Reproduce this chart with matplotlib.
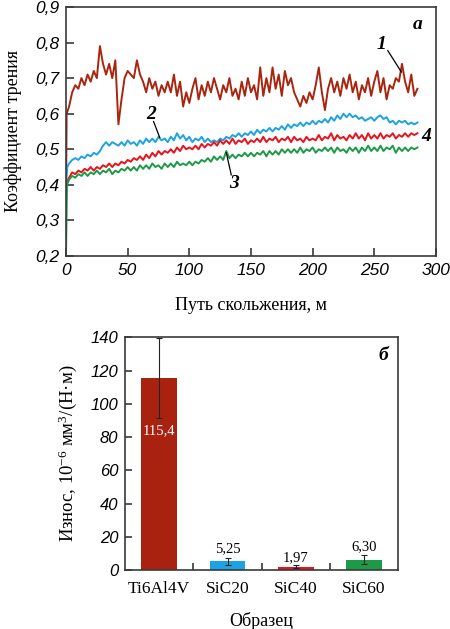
import numpy as np
import matplotlib
matplotlib.use("Agg")
import matplotlib.pyplot as plt

plt.rcParams['mathtext.fontset'] = 'custom'
plt.rcParams['mathtext.rm'] = 'Liberation Serif'
plt.rcParams['mathtext.it'] = 'Liberation Serif:italic'

# ---------------- data: friction coefficient vs sliding distance ----------------
STEP = 2.5  # m, sampling step of the series below (starting at 2.5 m)

# initial run-in points (distance, value)
c1_start_d = [0.0, 0.5]
c1_start_v = [0.36, 0.60]
c2_start_d = [0.0, 1.0]
c2_start_v = [0.40, 0.45]
c3_start_d = [0.0, 0.8]
c3_start_v = [0.21, 0.40]
c4_start_d = [0.0, 1.0]
c4_start_v = [0.40, 0.41]

curve1 = [0.62, 0.66, 0.68, 0.67, 0.70, 0.68, 0.71, 0.69, 0.72, 0.70,
          0.79, 0.74, 0.71, 0.74, 0.70, 0.75, 0.57, 0.64, 0.70, 0.72,
          0.71, 0.70, 0.75, 0.71, 0.69, 0.66, 0.70, 0.67, 0.69, 0.65,
          0.68, 0.66, 0.69, 0.66, 0.71, 0.65, 0.69, 0.62, 0.66, 0.63,
          0.67, 0.70, 0.64, 0.68, 0.65, 0.69, 0.66, 0.70, 0.67, 0.64,
          0.68, 0.66, 0.70, 0.65, 0.67, 0.64, 0.69, 0.65, 0.70, 0.66,
          0.68, 0.64, 0.73, 0.65, 0.70, 0.66, 0.73, 0.67, 0.71, 0.65,
          0.72, 0.68, 0.70, 0.66, 0.64, 0.62, 0.65, 0.63, 0.66, 0.64,
          0.68, 0.73, 0.66, 0.61, 0.67, 0.70, 0.66, 0.69, 0.65, 0.70,
          0.67, 0.71, 0.66, 0.69, 0.64, 0.68, 0.66, 0.70, 0.65, 0.69,
          0.72, 0.66, 0.70, 0.64, 0.68, 0.67, 0.70, 0.69, 0.74, 0.69,
          0.66, 0.71, 0.65, 0.67]

curve2 = [0.46, 0.47, 0.475, 0.47, 0.48, 0.475, 0.485, 0.48, 0.49, 0.485,
          0.495, 0.51, 0.52, 0.51, 0.52, 0.515, 0.51, 0.52, 0.51, 0.525,
          0.515, 0.52, 0.51, 0.525, 0.515, 0.53, 0.52, 0.53, 0.52, 0.535,
          0.525, 0.53, 0.52, 0.535, 0.525, 0.545, 0.53, 0.54, 0.525, 0.535,
          0.52, 0.53, 0.525, 0.535, 0.52, 0.53, 0.52, 0.525, 0.52, 0.53,
          0.525, 0.535, 0.53, 0.54, 0.535, 0.545, 0.535, 0.545, 0.54, 0.55,
          0.54, 0.555, 0.545, 0.555, 0.55, 0.56, 0.55, 0.56, 0.555, 0.565,
          0.555, 0.57, 0.56, 0.57, 0.565, 0.575, 0.565, 0.575, 0.57, 0.58,
          0.57, 0.58, 0.575, 0.585, 0.575, 0.59, 0.58, 0.595, 0.585, 0.60,
          0.59, 0.60, 0.59, 0.595, 0.585, 0.59, 0.58, 0.585, 0.59, 0.58,
          0.59, 0.595, 0.585, 0.59, 0.575, 0.58, 0.57, 0.58, 0.575, 0.58,
          0.57, 0.575, 0.57, 0.575]

curve4 = [0.42, 0.435, 0.43, 0.44, 0.435, 0.445, 0.44, 0.45, 0.44, 0.45,
          0.445, 0.455, 0.45, 0.46, 0.45, 0.46, 0.455, 0.465, 0.46, 0.47,
          0.465, 0.475, 0.47, 0.48, 0.47, 0.485, 0.475, 0.49, 0.48, 0.495,
          0.485, 0.495, 0.49, 0.50, 0.49, 0.505, 0.495, 0.51, 0.50, 0.505,
          0.50, 0.51, 0.50, 0.515, 0.505, 0.515, 0.51, 0.52, 0.51, 0.525,
          0.515, 0.525, 0.515, 0.53, 0.515, 0.525, 0.52, 0.53, 0.515, 0.525,
          0.52, 0.53, 0.52, 0.535, 0.52, 0.53, 0.525, 0.535, 0.52, 0.53,
          0.525, 0.535, 0.52, 0.535, 0.525, 0.53, 0.52, 0.535, 0.525, 0.53,
          0.525, 0.54, 0.525, 0.535, 0.53, 0.545, 0.525, 0.54, 0.53, 0.535,
          0.525, 0.54, 0.53, 0.545, 0.53, 0.54, 0.525, 0.545, 0.53, 0.54,
          0.53, 0.545, 0.53, 0.54, 0.535, 0.545, 0.53, 0.54, 0.535, 0.545,
          0.535, 0.545, 0.54, 0.545]

curve3 = [0.415, 0.425, 0.42, 0.43, 0.425, 0.435, 0.425, 0.435, 0.43, 0.44,
          0.43, 0.44, 0.435, 0.445, 0.43, 0.44, 0.435, 0.445, 0.44, 0.45,
          0.44, 0.45, 0.44, 0.455, 0.445, 0.455, 0.445, 0.46, 0.45, 0.455,
          0.445, 0.46, 0.45, 0.46, 0.45, 0.465, 0.455, 0.46, 0.455, 0.465,
          0.455, 0.465, 0.46, 0.47, 0.465, 0.475, 0.465, 0.48, 0.47, 0.48,
          0.47, 0.495, 0.475, 0.485, 0.475, 0.485, 0.48, 0.49, 0.48, 0.49,
          0.48, 0.49, 0.485, 0.495, 0.48, 0.495, 0.485, 0.495, 0.485, 0.50,
          0.49, 0.50, 0.49, 0.50, 0.49, 0.505, 0.49, 0.50, 0.495, 0.505,
          0.49, 0.50, 0.495, 0.505, 0.495, 0.505, 0.49, 0.505, 0.495, 0.50,
          0.49, 0.505, 0.495, 0.505, 0.49, 0.505, 0.495, 0.51, 0.495, 0.505,
          0.495, 0.51, 0.495, 0.505, 0.50, 0.51, 0.49, 0.505, 0.495, 0.505,
          0.495, 0.505, 0.50, 0.505]

fric_yticks = [0.2, 0.3, 0.4, 0.5, 0.6, 0.7, 0.8, 0.9]
fric_yticklabels = ['0,2', '0,3', '0,4', '0,5', '0,6', '0,7', '0,8', '0,9']
fric_xticks = [0, 50, 100, 150, 200, 250, 300]

# ---------------- data: wear ----------------
samples = ['Ti6Al4V', 'SiC20', 'SiC40', 'SiC60']
wear = [115.4, 5.25, 1.97, 6.30]
wear_err = [24.0, 2.0, 0.8, 2.6]
wear_labels = ['115,4', '5,25', '1,97', '6,30']
wear_yticks = [0, 20, 40, 60, 80, 100, 120, 140]

# ---------------- style ----------------
col1, col2, col3, col4 = '#A8260F', '#1BA3E3', '#1C9A48', '#E8131C'
bar_colors = ['#A8220F', '#1BA3E3', '#E8131C', '#1C9A48']
spine_col = '#3a3a3a'
sans_it = dict(family='Liberation Sans', style='italic')
serif = dict(family='Liberation Serif')

fig = plt.figure(figsize=(4.5, 6.29), dpi=100)

# ---------------- top panel ----------------
ax = fig.add_axes([0.1467, 0.593, 0.822, 0.396])


def series(start_d, start_v, vals):
    d = list(start_d) + list(STEP * np.arange(1, len(vals) + 1))
    v = list(start_v) + list(vals)
    return d, v


for sd, sv, vals, c in [(c1_start_d, c1_start_v, curve1, col1),
                        (c2_start_d, c2_start_v, curve2, col2),
                        (c4_start_d, c4_start_v, curve4, col4),
                        (c3_start_d, c3_start_v, curve3, col3)]:
    d, v = series(sd, sv, vals)
    ax.plot(d, v, color=c, lw=1.4)

ax.set_xlim(0, 300)
ax.set_ylim(0.2, 0.9)
ax.set_xticks(fric_xticks)
ax.set_xticklabels([str(t) for t in fric_xticks], fontsize=12.5, **sans_it)
ax.set_yticks(fric_yticks)
ax.set_yticklabels(fric_yticklabels, fontsize=12.5, **sans_it)
ax.tick_params(direction='in', length=6, width=1.2, color=spine_col, pad=5)
for s in ax.spines.values():
    s.set_color(spine_col)
    s.set_linewidth(1.2)
ax.set_ylabel('Коэффициент трения', fontsize=13, labelpad=9, **serif)
ax.set_xlabel('Путь скольжения, м', fontsize=13, labelpad=14, **serif)

lab = dict(fontsize=14, fontweight='bold', style='italic', family='Liberation Serif',
           ha='center', va='center')
ax.text(256, 0.795, '1', **lab)
ax.plot([261, 272], [0.777, 0.717], color='black', lw=0.9)
ax.text(69, 0.598, '2', **lab)
ax.plot([71, 76], [0.578, 0.533], color='black', lw=0.9)
ax.text(136, 0.404, '3', **lab)
ax.plot([134, 130], [0.428, 0.49], color='black', lw=0.9)
ax.text(292, 0.537, '4', **lab)
ax.text(0.965, 0.93, 'а', transform=ax.transAxes, fontsize=14, fontweight='bold',
        style='italic', family='Liberation Serif', ha='right', va='center')

# ---------------- bottom panel ----------------
bx = fig.add_axes([0.278, 0.0938, 0.607, 0.370])
x = np.arange(len(samples))
bx.bar(x, wear, width=0.52, color=bar_colors, zorder=2)
bx.errorbar(x, wear, yerr=wear_err, fmt='none', ecolor='#222222', elinewidth=0.8,
            capsize=2.5, capthick=0.8, zorder=3)
bx.set_xlim(-0.5, len(samples) - 0.5)
bx.set_ylim(0, 140)
bx.set_yticks(wear_yticks)
bx.set_yticklabels([str(t) for t in wear_yticks], fontsize=12, **sans_it)
bx.set_xticks(x)
bx.set_xticklabels(samples, fontsize=12.5, **serif)
bx.set_xticks(x[:-1] + 0.5, minor=True)
bx.tick_params(axis='x', which='major', length=0, pad=8)
bx.tick_params(axis='x', which='minor', direction='in', length=5, width=1.2, color=spine_col)
bx.tick_params(axis='y', direction='in', length=5, width=1.2, color=spine_col, pad=5)
for s in bx.spines.values():
    s.set_color(spine_col)
    s.set_linewidth(1.2)
bx.set_ylabel('Износ, 10$^{-6}$ мм$^{3}$/(Н·м)', fontsize=13.5, labelpad=8, **serif)
bx.set_xlabel('Образец', fontsize=13, labelpad=11, **serif)

bx.text(0, 84, wear_labels[0], color='white', fontsize=10.5, ha='center', va='center', **serif)
bx.text(1, 12.6, wear_labels[1], color='black', fontsize=10.5, ha='center', va='center', **serif)
bx.text(2, 7.3, wear_labels[2], color='black', fontsize=10.5, ha='center', va='center', **serif)
bx.text(3, 14.2, wear_labels[3], color='black', fontsize=10.5, ha='center', va='center', **serif)
bx.text(0.965, 0.92, 'б', transform=bx.transAxes, fontsize=14, fontweight='bold',
        style='italic', family='Liberation Serif', ha='right', va='center')

fig.savefig('out.png', dpi=100)
